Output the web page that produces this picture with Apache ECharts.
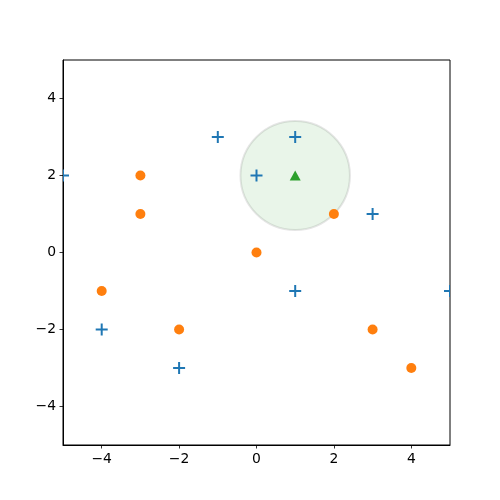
<!DOCTYPE html>
<html><head><meta charset="utf-8">
<script src="https://cdn.jsdelivr.net/npm/echarts@6/dist/echarts.min.js"></script>
<style>html,body{margin:0;padding:0;background:#fff}#c{width:500px;height:500px}</style>
</head><body><div id="c"></div>
<script>
const tickValues = [-4, -2, 0, 2, 4];
const plusPoints = [[-5,2],[-1,3],[1,3],[0,2],[3,1],[1,-1],[5,-1],[-4,-2],[-2,-3]];
const dotPoints = [[-3,2],[-3,1],[2,1],[0,0],[-4,-1],[-2,-2],[3,-2],[4,-3]];
const trianglePoints = [[1,2]];
const circles = [[1,2,1.414]];

const fmt = v => (v < 0 ? '\u2212' + Math.abs(v) : String(v));
const font = {fontFamily:'DejaVu Sans', fontSize:13.9, color:'#000'};
function axis(){
  return {type:'value', min:-5, max:5, splitLine:{show:false},
    axisLine:{onZero:false, lineStyle:{color:'#000', width:1}},
    axisTick:{customValues:tickValues, length:3.5, lineStyle:{color:'#000', width:0.8}},
    axisLabel:Object.assign({customValues:tickValues, formatter:fmt, margin:7}, font)};
}
const chart = echarts.init(document.getElementById('c'), null, {renderer:'canvas'});
chart.setOption({
  animation:false,
  grid:{left:63, right:50, top:60, bottom:55, show:true, borderColor:'#000', borderWidth:1, backgroundColor:'transparent'},
  xAxis:axis(), yAxis:axis(),
  series:[
    {type:'custom', clip:true, z:1, data:circles,
     renderItem:(params, api) => {
       const c = api.coord([api.value(0), api.value(1)]);
       const r = api.size([api.value(2), api.value(2)]);
       return {type:'ellipse', shape:{cx:c[0], cy:c[1], rx:r[0], ry:r[1]},
         style:{fill:'rgba(44,160,44,0.1)', stroke:'rgba(0,0,0,0.1)', lineWidth:2}};
     }},
    {type:'custom', clip:true, z:2, data:plusPoints,
     renderItem:(params, api) => {
       const p = api.coord([api.value(0), api.value(1)]);
       const s = 6;
       const st = {stroke:'#1f77b4', lineWidth:2};
       return {type:'group', children:[
         {type:'line', shape:{x1:p[0]-s, y1:p[1], x2:p[0]+s, y2:p[1]}, style:st},
         {type:'line', shape:{x1:p[0], y1:p[1]-s, x2:p[0], y2:p[1]+s}, style:st}
       ]};
     }},
    {type:'scatter', z:3, data:dotPoints, symbol:'circle', symbolSize:10,
     itemStyle:{color:'#ff7f0e', opacity:1}},
    {type:'scatter', z:3, data:trianglePoints, symbol:'triangle', symbolSize:[11,10],
     itemStyle:{color:'#2ca02c', opacity:1}}
  ]
});
</script></body></html>
